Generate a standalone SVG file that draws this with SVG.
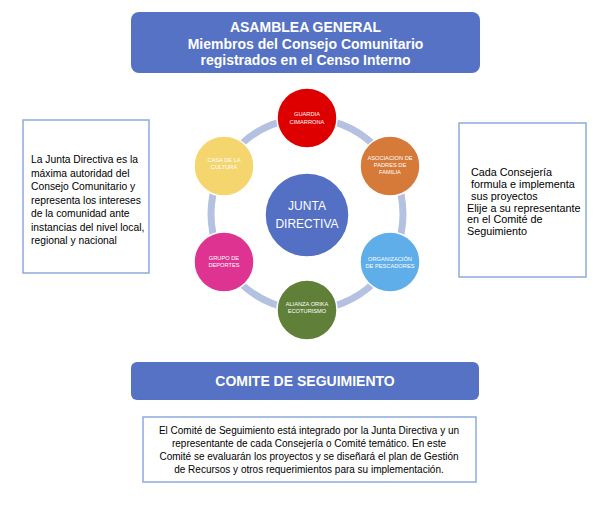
<svg xmlns="http://www.w3.org/2000/svg" width="607" height="514" viewBox="0 0 607 514">
<style>
.hdr{fill:#5572C4;}
.hdrt{font-family:"Liberation Sans",Arial,sans-serif;font-weight:bold;font-size:14px;fill:#fff;text-anchor:middle;}
.box{fill:#fff;stroke:#8FAADC;stroke-width:1.5;}
.bt{font-family:"Liberation Sans",Arial,sans-serif;font-size:10.3px;fill:#000;}
.nd{stroke:#fff;stroke-width:1.5;}
.nt{font-family:"Liberation Sans",Arial,sans-serif;font-size:5.7px;fill:#fff;text-anchor:middle;}
.ct{font-family:"Liberation Sans",Arial,sans-serif;font-size:12px;fill:#fff;text-anchor:middle;}
</style>
<rect width="607" height="514" fill="#fff"/>
<g id="asamblea">
<rect class="hdr" x="131" y="12" width="349" height="61" rx="8"/>
<text class="hdrt" x="305.5" y="32">ASAMBLEA GENERAL</text>
<text class="hdrt" x="305.5" y="48.5">Miembros del Consejo Comunitario</text>
<text class="hdrt" x="305.5" y="65">registrados en el Censo Interno</text>
</g>
<g id="connectors">
<circle cx="307" cy="214" r="96" fill="none" stroke="#B4C1E1" stroke-width="7"/>
</g>
<g id="junta">
<circle cx="307" cy="215" r="42" fill="#5470C4" stroke="#fff" stroke-width="1.5"/>
<text class="ct" x="307" y="210">JUNTA</text>
<text class="ct" x="307" y="228">DIRECTIVA</text>
</g>
<g id="guardia">
<circle class="nd" cx="307" cy="118" r="30" fill="#DE0000"/>
<text class="nt" x="307" y="116">GUARDIA</text>
<text class="nt" x="307" y="124">CIMARRONA</text>
</g>
<g id="asociacion">
<circle class="nd" cx="390" cy="166" r="30" fill="#D67A3A"/>
<text class="nt" x="390" y="160">ASOCIACION DE</text>
<text class="nt" x="390" y="167">PADRES DE</text>
<text class="nt" x="390" y="174">FAMILIA</text>
</g>
<g id="organizacion">
<circle class="nd" cx="390" cy="262" r="30" fill="#5FAEEA"/>
<text class="nt" x="390" y="261">ORGANIZACIÓN</text>
<text class="nt" x="390" y="268">DE PESCADORES</text>
</g>
<g id="alianza">
<circle class="nd" cx="307" cy="310" r="30" fill="#607F38"/>
<text class="nt" x="307" y="306">ALIANZA ORIKA</text>
<text class="nt" x="307" y="313">ECOTURISMO</text>
</g>
<g id="grupo">
<circle class="nd" cx="224" cy="262" r="30" fill="#DE3390"/>
<text class="nt" x="224" y="260">GRUPO DE</text>
<text class="nt" x="224" y="267">DEPORTES</text>
</g>
<g id="casa">
<circle class="nd" cx="224" cy="166" r="30" fill="#F5D56E"/>
<text class="nt" x="224" y="162">CASA DE LA</text>
<text class="nt" x="224" y="169">CULTURA</text>
</g>
<g id="left-note">
<rect class="box" x="23" y="120" width="126" height="153"/>
<text class="bt" x="31" y="163">La Junta Directiva es la</text>
<text class="bt" x="31" y="176.5">máxima autoridad del</text>
<text class="bt" x="31" y="190">Consejo Comunitario y</text>
<text class="bt" x="31" y="203.5">representa los intereses</text>
<text class="bt" x="31" y="217">de la comunidad ante</text>
<text class="bt" x="31" y="230.5">instancias del nivel local,</text>
<text class="bt" x="31" y="244">regional y nacional</text>
</g>
<g id="right-note">
<rect class="box" x="459" y="123" width="127" height="154"/>
<text class="bt" x="471" y="176" style="font-size:10.8px">Cada Consejería</text>
<text class="bt" x="471" y="188" style="font-size:10.8px">formula e implementa</text>
<text class="bt" x="471" y="199.5" style="font-size:10.8px">sus proyectos</text>
<text class="bt" x="467" y="211.5" style="font-size:10.8px">Elije a su representante</text>
<text class="bt" x="467" y="223" style="font-size:10.8px">en el Comité de</text>
<text class="bt" x="467" y="234.5" style="font-size:10.8px">Seguimiento</text>
</g>
<g id="comite">
<rect class="hdr" x="131" y="362" width="348" height="38" rx="6"/>
<text class="hdrt" x="305" y="386">COMITE DE SEGUIMIENTO</text>
</g>
<g id="comite-note">
<rect class="box" x="143" y="417" width="333" height="65"/>
<text class="bt" x="309" y="434" text-anchor="middle" style="font-size:10px">El Comité de Seguimiento está integrado por la Junta Directiva y un</text>
<text class="bt" x="309" y="447" text-anchor="middle" style="font-size:10px">representante de cada Consejería o Comité temático. En este</text>
<text class="bt" x="309" y="460" text-anchor="middle" style="font-size:10px">Comité se evaluarán los proyectos y se diseñará el plan de Gestión</text>
<text class="bt" x="309" y="473" text-anchor="middle" style="font-size:10px">de Recursos y otros requerimientos para su implementación.</text>
</g>
</svg>
